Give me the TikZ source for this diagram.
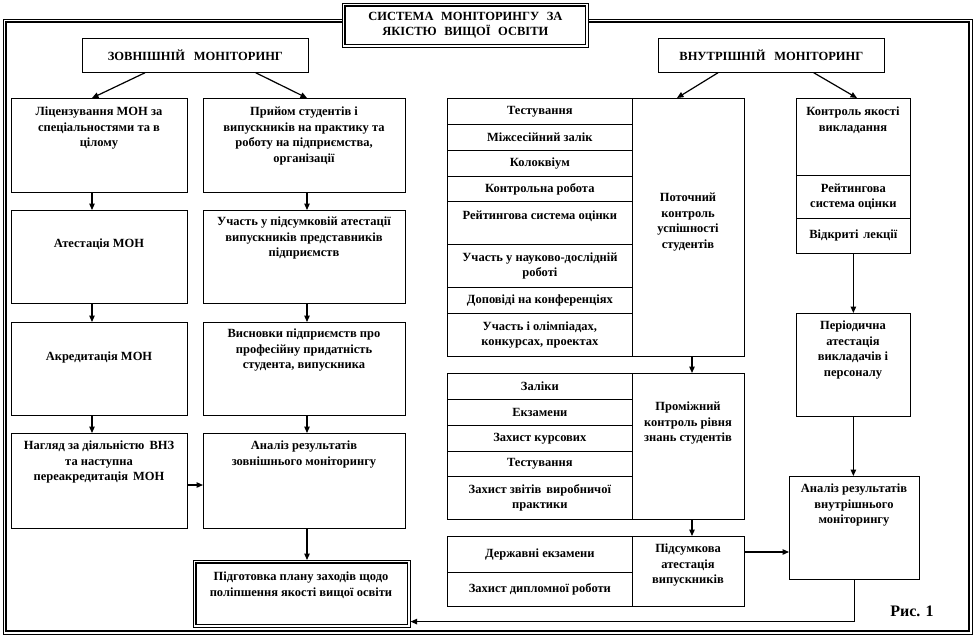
\documentclass[tikz,border=0pt]{standalone}
\usepackage{fontspec}
\setmainfont{Liberation Serif}
\usetikzlibrary{arrows.meta,calc}
\newcommand{\myft}{\bfseries\fontsize{12.5}{15.5}\selectfont}
\begin{document}
\begin{tikzpicture}[x=1pt,y=-1pt,
  box/.style={draw,line width=0.75pt,rectangle,inner sep=0pt,anchor=north west,align=center,font=\myft},
  txt/.style={inner sep=0pt,anchor=north,align=center,font=\myft},
  arr/.style={line width=1.2pt,-{Triangle[width=5.5pt,length=6.5pt]}}]
\useasboundingbox (0,0) rectangle (974,643);
% outer frame
\draw[line width=0.7pt] (3,19) rectangle (972,634);
\draw[line width=1.3pt] (6,22) rectangle (969,631);
% title
\node[box,fill=white,line width=0.7pt,minimum width=246,minimum height=44] (title) at (342,3)
  {СИСТЕМА\hspace{.6em}МОНІТОРИНГУ\hspace{.6em}ЗА\\ЯКІСТЮ\hspace{.6em}ВИЩОЇ\hspace{.6em}ОСВІТИ};
\draw[line width=1.4pt] ($(title.north west)+(3,3)$) rectangle ($(title.south east)+(-3,-3)$);
% headers
\node[box,minimum width=226,minimum height=34] (zov) at (82,38) {ЗОВНІШНІЙ\hspace{.7em}МОНІТОРИНГ};
\node[box,minimum width=226,minimum height=34] (vnu) at (658,38) {ВНУТРІШНІЙ\hspace{.7em}МОНІТОРИНГ};
% left column
\node[box,minimum width=176,minimum height=94] (L1) at (11,98) {};
\node[box,minimum width=176,minimum height=93] (L2) at (11,210) {};
\node[box,minimum width=176,minimum height=93] (L3) at (11,322) {};
\node[box,minimum width=176,minimum height=95] (L4) at (11,433) {};
\node[txt] (tL1) at (99,107) {Ліцензування МОН за\\спеціальностями та в\\цілому};
\node[txt] (tL2) at (99,239) {Атестація МОН};
\node[txt] (tL3) at (99,352) {Акредитація МОН};
\node[txt] (tL4) at (99,441) {Нагляд за діяльністю\hspace{.4em}ВНЗ\\та наступна\\переакредитація\hspace{.4em}МОН};
% second column
\node[box,minimum width=202,minimum height=94] (R1) at (203,98) {};
\node[box,minimum width=202,minimum height=93] (R2) at (203,210) {};
\node[box,minimum width=202,minimum height=93] (R3) at (203,322) {};
\node[box,minimum width=202,minimum height=95] (R4) at (203,433) {};
\node[txt] (tR1) at (304,107) {Прийом студентів і\\випускників на практику та\\роботу на підприємства,\\організації};
\node[txt] (tR2) at (304,217) {Участь у підсумковій атестації\\випускників представників\\підприємств};
\node[txt] (tR3) at (304,329) {Висновки підприємств про\\професійну придатність\\студента, випускника};
\node[txt] (tR4) at (304,441) {Аналіз результатів\\зовнішнього моніторингу};
% plan box
\node[box,line width=0.6pt,minimum width=217,minimum height=67] (P) at (193,560) {};
\draw[line width=1.4pt] ($(P.north west)+(3,3)$) rectangle ($(P.south east)+(-3,-3)$);
\node[txt] (tP) at (301,572) {Підготовка плану заходів щодо\\поліпшення якості вищої освіти};
% block A
\node[box,minimum width=185,minimum height=26] (A1) at (447,98) {Тестування};
\node[box,minimum width=185,minimum height=26] (A2) at (447,124) {Міжсесійний залік};
\node[box,minimum width=185,minimum height=26] (A3) at (447,150) {Колоквіум};
\node[box,minimum width=185,minimum height=25] (A4) at (447,176) {Контрольна робота};
\node[box,minimum width=185,minimum height=43] (A5) at (447,201) {Рейтингова система оцінки\\\phantom{x}};
\node[box,minimum width=185,minimum height=43] (A6) at (447,244) {Участь у науково-дослідній\\роботі};
\node[box,minimum width=185,minimum height=26] (A7) at (447,287) {Доповіді на конференціях};
\node[box,minimum width=185,minimum height=43] (A8) at (447,313) {Участь і олімпіадах,\\конкурсах, проектах};
\node[box,minimum width=112,minimum height=258] (Ar) at (632,98) {};
\node[txt] (tAr) at (688,193) {Поточний\\контроль\\успішності\\студентів};
% block B
\node[box,minimum width=185,minimum height=26] (B1) at (447,373) {Заліки};
\node[box,minimum width=185,minimum height=26] (B2) at (447,399) {Екзамени};
\node[box,minimum width=185,minimum height=26] (B3) at (447,425) {Захист курсових};
\node[box,minimum width=185,minimum height=25] (B4) at (447,451) {Тестування};
\node[box,minimum width=185,minimum height=43] (B5) at (447,476) {Захист звітів\hspace{.4em}виробничої\\практики};
\node[box,minimum width=112,minimum height=146] (Br) at (632,373) {};
\node[txt] (tBr) at (688,402) {Проміжний\\контроль рівня\\знань студентів};
% block C
\node[box,minimum width=185,minimum height=36] (C1) at (447,536) {Державні екзамени};
\node[box,minimum width=185,minimum height=34] (C2) at (447,572) {Захист дипломної роботи};
\node[box,minimum width=112,minimum height=70] (Cr) at (632,536) {};
\node[txt] (tCr) at (688,544) {Підсумкова\\атестація\\випускників};
% right column
\node[box,minimum width=114,minimum height=77] (K1) at (796,98) {};
\node[txt] (tK1) at (853,107) {Контроль якості\\викладання};
\node[box,minimum width=114,minimum height=43] (K2) at (796,175) {Рейтингова\\система оцінки};
\node[box,minimum width=114,minimum height=35] (K3) at (796,218) {Відкриті\hspace{.4em}лекції};
\node[box,minimum width=114,minimum height=103] (Per) at (796,313) {};
\node[txt] (tPer) at (853,321) {Періодична\\атестація\\викладачів і\\персоналу};
\node[box,minimum width=130,minimum height=103] (An) at (789,476) {};
\node[txt] (tAn) at (854,484) {Аналіз результатів\\внутрішнього\\моніторингу};
\node[inner sep=0pt,font=\bfseries\fontsize{16}{18}\selectfont] (fig) at (912,611) {Рис. 1};
% connectors
\draw[arr] ($(zov.south west)+(63,0)$) -- ($(L1.north west)+(81,0)$);
\draw[arr] ($(zov.south east)+(-53,0)$) -- ($(R1.north west)+(104,0)$);
\draw[arr] ($(L1.south west)+(81,0)$) -- ($(L2.north west)+(81,0)$);
\draw[arr] ($(L2.south west)+(81,0)$) -- ($(L3.north west)+(81,0)$);
\draw[arr] ($(L3.south west)+(81,0)$) -- ($(L4.north west)+(81,0)$);
\draw[arr] ($(R1.south west)+(104,0)$) -- ($(R2.north west)+(104,0)$);
\draw[arr] ($(R2.south west)+(104,0)$) -- ($(R3.north west)+(104,0)$);
\draw[arr] ($(R3.south west)+(104,0)$) -- ($(R4.north west)+(104,0)$);
\draw[arr] ($(L4.north east)+(0,52)$) -- ($(R4.north west)+(0,52)$);
\coordinate (r4s) at ($(R4.south west)+(104,0)$);
\draw[arr] (r4s) -- (r4s |- P.north);
\draw[arr] ($(vnu.south west)+(60,0)$) -- ($(Ar.north west)+(45,0)$);
\draw[arr] ($(vnu.south east)+(-71,0)$) -- ($(K1.north west)+(61,0)$);
\coordinate (ab) at ($(Ar.south west)+(60,0)$);
\draw[arr] (ab) -- (ab |- Br.north);
\coordinate (bc) at ($(Br.south west)+(60,0)$);
\draw[arr] (bc) -- (bc |- Cr.north);
\coordinate (ca) at ($(Cr.north east)+(0,16)$);
\draw[arr] (ca) -- (ca -| An.west);
\draw[arr] (K3.south) -- (K3.south |- Per.north);
\draw[arr] (Per.south) -- (Per.south |- An.north);
\coordinate (pp) at ($(P.south east)+(0,-6)$);
\draw[arr] (An.south) |- (pp);
\end{tikzpicture}
\end{document}
